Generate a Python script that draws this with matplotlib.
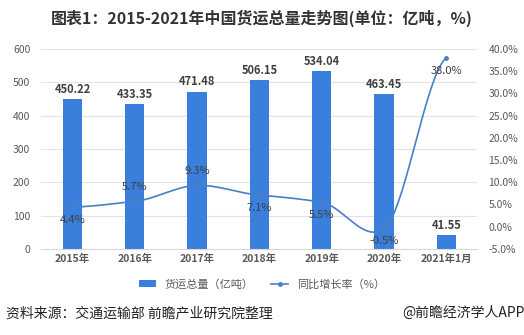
import numpy as np
import matplotlib
matplotlib.use("Agg")
import matplotlib.pyplot as plt
from matplotlib.lines import Line2D
from matplotlib.patches import Patch

plt.rcParams['font.family'] = ['Noto Sans CJK SC', 'DejaVu Sans']

# 数据
years = ['2015年', '2016年', '2017年', '2018年', '2019年', '2020年', '2021年1月']
freight = [450.22, 433.35, 471.48, 506.15, 534.04, 463.45, 41.55]
growth = [4.4, 5.7, 9.3, 7.1, 5.5, -0.5, 38.0]

BAR = '#3a7fdc'
LINE = '#4a7fc8'
TXT = '#404040'


# 平滑曲线 (三次 Hermite, 切线按 tension 缩放)
def smooth(x, y, tension=0.3, n=40):
    x = np.asarray(x, float)
    y = np.asarray(y, float)
    dy = np.zeros_like(y)
    dy[1:-1] = (y[2:] - y[:-2]) * tension
    dy[0] = (y[1] - y[0]) * tension
    dy[-1] = (y[-1] - y[-2]) * tension
    xs, ys = [], []
    t = np.linspace(0, 1, n)
    h00 = 2*t**3 - 3*t**2 + 1
    h10 = t**3 - 2*t**2 + t
    h01 = -2*t**3 + 3*t**2
    h11 = t**3 - t**2
    for i in range(len(x) - 1):
        xs.extend(x[i] + t*(x[i+1] - x[i]))
        ys.extend(h00*y[i] + h10*dy[i] + h01*y[i+1] + h11*dy[i+1])
    return np.array(xs), np.array(ys)


fig = plt.figure(figsize=(5.24, 3.35), dpi=100)
ax = fig.add_axes([0.079, 0.257, 0.832, 0.597])
x = np.arange(len(years))

ax.bar(x, freight, width=0.31, color=BAR, zorder=2)
for xi, v in zip(x, freight):
    ax.text(xi, v + 10, '%.2f' % v, ha='center', va='bottom', fontsize=8,
            fontweight='bold', color=TXT)

ax.set_xlim(-0.5, len(years) - 0.5)
ax.set_ylim(0, 600)
ax.set_yticks(range(0, 601, 100))
ax.grid(axis='y', color='#e3e3e3', linewidth=0.8, zorder=0)
ax.set_axisbelow(True)
for s in ['top', 'left', 'right']:
    ax.spines[s].set_visible(False)
ax.spines['bottom'].set_color('#d9d9d9')
ax.tick_params(axis='both', length=0, labelsize=7.5, colors='#595959')
ax.tick_params(axis='y', pad=8)
ax.set_xticks(x)
ax.set_xticklabels(years, fontweight='bold')

ax2 = ax.twinx()
ax2.set_ylim(-5, 40)
ax2.set_yticks(range(-5, 41, 5))
ax2.set_yticklabels(['%.1f%%' % v for v in range(-5, 41, 5)])
ax2.tick_params(axis='y', length=0, labelsize=7.5, colors='#595959', pad=8)
for s in ax2.spines.values():
    s.set_visible(False)

sx, sy = smooth(x, growth)
ax2.plot(sx, sy, color=LINE, linewidth=1.2, zorder=3)
ax2.plot(x, growth, 'o', color=LINE, markersize=2.5, zorder=4)

# 增长率标签位置: 上方 / 下方
offsets = [-4.0, 2.2, 2.2, -4.0, -4.0, -3.8, -4.0]
for xi, v, off in zip(x, growth, offsets):
    ax2.text(xi, v + off, '%.1f%%' % v, ha='center', va='bottom', fontsize=8,
             color=TXT, zorder=5)

handles = [Patch(facecolor=BAR),
           Line2D([0], [0], color=LINE, marker='o', markersize=2.5, linewidth=1.2)]
fig.legend(handles, ['货运总量（亿吨）', '同比增长率（%）'], loc='center',
           bbox_to_anchor=(0.5, 0.152), ncol=2, frameon=False, fontsize=8,
           handlelength=1.5, handleheight=0.6, columnspacing=1.6,
           labelcolor='#595959')

fig.text(0.5, 0.945, '图表1：2015-2021年中国货运总量走势图(单位：亿吨，%)',
         ha='center', va='center', fontsize=11.5, fontweight='bold', color='#333333')
fig.text(0.012, 0.065, '资料来源：交通运输部 前瞻产业研究院整理', ha='left',
         va='center', fontsize=10, color='#222222')
fig.text(1.002, 0.065, '@前瞻经济学人APP', ha='right', va='center',
         fontsize=10, color='#222222')

fig.savefig('out.png', dpi=100)
